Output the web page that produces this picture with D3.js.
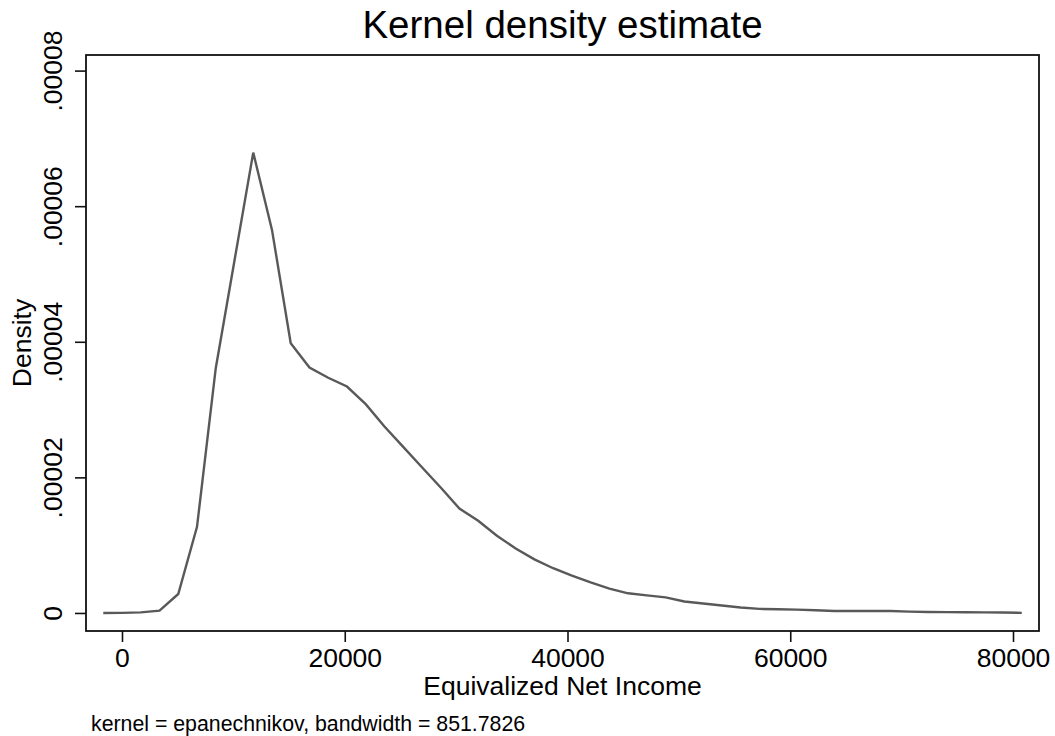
<!DOCTYPE html>
<html>
<head>
<meta charset="utf-8">
<script src="https://cdn.jsdelivr.net/npm/d3@7"></script>
<style>
  html, body { margin: 0; padding: 0; background: #fff; }
  svg { display: block; font-family: "Liberation Sans", Arial, Helvetica, sans-serif; }
</style>
</head>
<body>
<svg id="chart" width="1055" height="736"></svg>
<script>
// Evaluation grid (Equivalized Net Income)
const incomeGrid = [
  -1680, 3, 1686, 3369, 5052, 6735, 8418, 10101, 11784, 13467,
  15150, 16833, 18516, 20199, 21882, 23565, 25248, 26931, 28614, 30297,
  31980, 33663, 35346, 37029, 38712, 40395, 42078, 43761, 45444, 47127,
  48810, 50493, 52176, 53859, 55542, 57225, 58908, 60591, 62274, 63957,
  65640, 67323, 69006, 70689, 72372, 74055, 75738, 77421, 79104, 80787
];
// Estimated density at each grid point
const densityValues = [
  0.0000000, 0.00000002, 0.00000008, 0.00000034, 0.0000028, 0.0000127, 0.0000361, 0.0000520, 0.0000679, 0.0000565,
  0.0000398, 0.0000362, 0.0000347, 0.0000334, 0.0000308, 0.0000275, 0.0000245, 0.0000215, 0.0000185, 0.0000154,
  0.0000136, 0.0000114, 0.0000095, 0.0000079, 0.0000066, 0.0000055, 0.0000045, 0.0000036, 0.0000029, 0.0000026,
  0.0000023, 0.0000017, 0.0000014, 0.0000011, 0.0000008, 0.0000006, 0.00000055, 0.0000005, 0.0000004, 0.0000003,
  0.0000003, 0.0000003, 0.0000003, 0.0000002, 0.00000015, 0.00000012, 0.0000001, 0.00000008, 0.00000007, 0.00000002
];
const xTicks = [0, 20000, 40000, 60000, 80000];
const yTicks = [0, 0.00002, 0.00004, 0.00006, 0.00008];
const yTickLabels = ["0", ".00002", ".00004", ".00006", ".00008"];
const titleText = "Kernel density estimate";
const xTitle = "Equivalized Net Income";
const yTitle = "Density";
const noteText = "kernel = epanechnikov, bandwidth = 851.7826";

const svg = d3.select("#chart");
const L = 86, R = 1039, T = 55, B = 631;

const x = d3.scaleLinear().domain([-3232, 82334]).range([L, R]);
const y = d3.scaleLinear().domain([-0.00000266, 0.0000823]).range([B, T]);

// density line
const pts = incomeGrid.map((v, i) => [v, densityValues[i]]);
svg.append("path")
  .datum(pts)
  .attr("fill", "none")
  .attr("stroke", "#595959")
  .attr("stroke-width", 2.4)
  .attr("stroke-linejoin", "miter")
  .attr("d", d3.line().x(d => x(d[0])).y(d => y(d[1])));

// frame
svg.append("rect")
  .attr("x", L).attr("y", T)
  .attr("width", R - L).attr("height", B - T)
  .attr("fill", "none").attr("stroke", "#111").attr("stroke-width", 1.8);

// x axis
const gx = svg.append("g").attr("transform", `translate(0,${B})`)
  .call(d3.axisBottom(x).tickValues(xTicks).tickSize(11).tickFormat(d3.format("d")));
gx.select(".domain").remove();
gx.selectAll(".tick line").attr("stroke", "#111").attr("stroke-width", 1.6);
gx.selectAll(".tick text")
  .attr("y", 36).attr("dy", null)
  .attr("fill", "#000")
  .style("font-size", "26.5px")
  .style("font-family", "'Liberation Sans', Arial, sans-serif");

// y axis
const gy = svg.append("g").attr("transform", `translate(${L},0)`)
  .call(d3.axisLeft(y).tickValues(yTicks).tickSize(11).tickFormat((d, i) => yTickLabels[i]));
gy.select(".domain").remove();
gy.selectAll(".tick line").attr("stroke", "#111").attr("stroke-width", 1.6);
gy.selectAll(".tick text")
  .attr("x", null).attr("dy", null)
  .attr("text-anchor", "middle")
  .attr("transform", "translate(-24,0) rotate(-90)")
  .attr("fill", "#000")
  .style("font-size", "26.5px")
  .style("font-family", "'Liberation Sans', Arial, sans-serif");

// title
svg.append("text")
  .attr("x", (L + R) / 2).attr("y", 38)
  .attr("text-anchor", "middle")
  .style("font-size", "38.5px")
  .attr("fill", "#000")
  .text(titleText);

// x title
svg.append("text")
  .attr("x", (L + R) / 2).attr("y", 695)
  .attr("text-anchor", "middle")
  .style("font-size", "26.5px")
  .attr("fill", "#000")
  .text(xTitle);

// y title
svg.append("text")
  .attr("transform", `translate(31,${(T + B) / 2}) rotate(-90)`)
  .attr("text-anchor", "middle")
  .style("font-size", "26.5px")
  .attr("fill", "#000")
  .text(yTitle);

// note
svg.append("text")
  .attr("x", 91).attr("y", 731)
  .style("font-size", "21.3px")
  .attr("fill", "#000")
  .text(noteText);
</script>
</body>
</html>
